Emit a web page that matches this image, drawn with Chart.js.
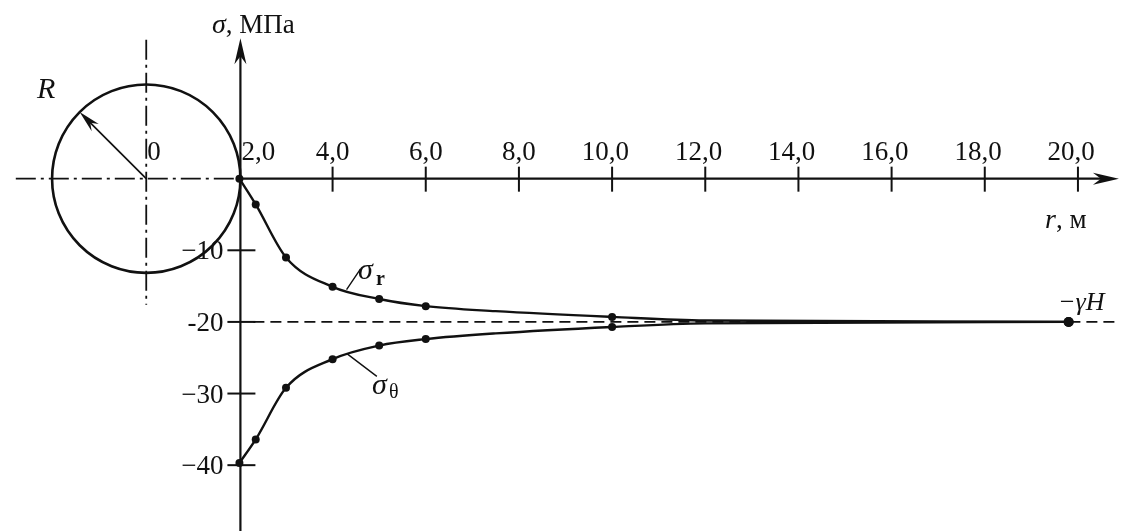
<!DOCTYPE html>
<html>
<head>
<meta charset="utf-8">
<script src="https://cdn.jsdelivr.net/npm/chart.js@4"></script>
<style>
  body { margin: 0; background: #fff; }
  #wrap { width: 1133px; height: 531px; position: relative; }
</style>
</head>
<body>
<div id="wrap"><canvas id="chart"></canvas></div>
<script>
// r, м
const rPoints    = [2.0, 2.35, 3.0, 4.0, 5.0, 6.0, 7.5, 10.0, 12.0, 19.8];
const sigmaR     = [0, -3.6, -11.0, -15.1, -16.8, -17.8, -18.5, -19.3, -19.8, -20.0];
const sigmaTheta = [-39.7, -36.4, -29.2, -25.2, -23.3, -22.4, -21.6, -20.7, -20.2, -20.0];
const marked     = [1, 1, 1, 1, 1, 1, 0, 1, 0, 1];

const gammaH = 20;       // -γH level, МПа
const holeRadius = 2;    // R, м

const xTickValues = [4, 6, 8, 10, 12, 14, 16, 18, 20];
const xTickLabels = ['4,0', '6,0', '8,0', '10,0', '12,0', '14,0', '16,0', '18,0', '20,0'];
const yTickValues = [-10, -20, -30, -40];
const yTickLabels = ['\u221210', '-20', '\u221230', '\u221240'];

const ink = '#111';
const serif = "'Liberation Serif', 'DejaVu Serif', serif";

function radii(big) {
    return marked.map((m, i) => i === marked.length - 1 ? big : (m ? 4 : 0));
}

// стрелка на конце оси
function arrowHead(ctx, tx, ty, dir) {
    ctx.save();
    ctx.translate(tx, ty);
    ctx.rotate(dir);
    ctx.beginPath();
    ctx.moveTo(0, 0);
    ctx.lineTo(-26, -6);
    ctx.lineTo(-18, 0);
    ctx.lineTo(-26, 6);
    ctx.closePath();
    ctx.fill();
    ctx.restore();
}

const decorPlugin = {
    id: 'decor',
    beforeDraw(chart) {
        const ctx = chart.ctx;
        ctx.save();
        ctx.fillStyle = '#fff';
        ctx.fillRect(0, 0, chart.width, chart.height);
        ctx.restore();
    },
    beforeDatasetsDraw(chart) {
        const { ctx, scales: { x, y } } = chart;
        const cx = x.getPixelForValue(0);
        const cy = y.getPixelForValue(0);
        const axisX = x.getPixelForValue(holeRadius) + 1;
        const rad = axisX - cx;

        ctx.save();
        ctx.strokeStyle = ink;
        ctx.fillStyle = ink;

        // осевые штрихпунктирные линии
        ctx.lineWidth = 1.8;
        ctx.setLineDash([20, 5, 3, 5]);
        ctx.beginPath();
        ctx.moveTo(x.getPixelForValue(-2.8), cy);
        ctx.lineTo(axisX, cy);
        ctx.moveTo(cx, y.getPixelForValue(19.4));
        ctx.lineTo(cx, y.getPixelForValue(-17.6));
        ctx.stroke();
        ctx.setLineDash([]);

        // контур выработки
        ctx.lineWidth = 2.6;
        ctx.beginPath();
        ctx.arc(cx, cy, rad, 0, Math.PI * 2);
        ctx.stroke();

        // радиус R
        const ang = -Math.PI * 3 / 4;
        const ex = cx + rad * Math.cos(ang), ey = cy + rad * Math.sin(ang);
        ctx.lineWidth = 1.7;
        ctx.beginPath();
        ctx.moveTo(cx, cy);
        ctx.lineTo(ex + 8, ey + 8);
        ctx.stroke();
        ctx.save();
        ctx.translate(ex, ey);
        ctx.rotate(ang + Math.PI);
        ctx.beginPath();
        ctx.moveTo(0, 0);
        ctx.lineTo(22, -5);
        ctx.lineTo(15, 0);
        ctx.lineTo(22, 5);
        ctx.closePath();
        ctx.fill();
        ctx.restore();

        // ось r
        ctx.lineWidth = 2.4;
        const xEnd = x.getPixelForValue(20.88);
        ctx.beginPath();
        ctx.moveTo(axisX, cy);
        ctx.lineTo(xEnd - 10, cy);
        ctx.stroke();
        arrowHead(ctx, xEnd, cy, 0);
        ctx.lineWidth = 2;
        xTickValues.forEach(v => {
            const px = x.getPixelForValue(v);
            ctx.beginPath();
            ctx.moveTo(px, cy - 12);
            ctx.lineTo(px, cy + 13);
            ctx.stroke();
        });

        // ось σ
        ctx.lineWidth = 2.2;
        const yTop = y.getPixelForValue(19.6);
        ctx.beginPath();
        ctx.moveTo(axisX, chart.height);
        ctx.lineTo(axisX, yTop + 10);
        ctx.stroke();
        arrowHead(ctx, axisX, yTop, -Math.PI / 2);
        ctx.lineWidth = 2;
        yTickValues.forEach(v => {
            const py = y.getPixelForValue(v);
            ctx.beginPath();
            ctx.moveTo(axisX - 13, py);
            ctx.lineTo(axisX + 15, py);
            ctx.stroke();
        });

        // уровень -γH
        ctx.lineWidth = 1.8;
        ctx.setLineDash([11, 6]);
        ctx.beginPath();
        ctx.moveTo(x.getPixelForValue(2.3), y.getPixelForValue(-gammaH));
        ctx.lineTo(x.getPixelForValue(20.85), y.getPixelForValue(-gammaH));
        ctx.stroke();
        ctx.restore();
    },
    afterDraw(chart) {
        const { ctx, scales: { x, y } } = chart;
        const cx = x.getPixelForValue(0);
        const cy = y.getPixelForValue(0);
        const axisX = x.getPixelForValue(holeRadius) + 1;

        ctx.save();
        ctx.fillStyle = ink;
        ctx.strokeStyle = ink;
        ctx.textBaseline = 'alphabetic';

        // подписи оси r
        ctx.font = '27px ' + serif;
        ctx.textAlign = 'left';
        xTickValues.forEach((v, i) => {
            const lbl = xTickLabels[i];
            const head = lbl.split(',')[0];
            const w = ctx.measureText(head).width + ctx.measureText(',').width / 2;
            ctx.fillText(lbl, x.getPixelForValue(v) - w, cy - 19);
        });
        ctx.fillText('2,0', axisX + 1, cy - 19);
        ctx.fillText('0', cx + 1, cy - 19);

        // подписи оси σ
        ctx.textAlign = 'right';
        yTickValues.forEach((v, i) => {
            ctx.fillText(yTickLabels[i], axisX - 17, y.getPixelForValue(v) + 9);
        });

        // заголовки осей
        ctx.textAlign = 'left';
        ctx.font = 'italic 28px ' + serif;
        ctx.fillText('\u03c3', 212, 33);
        let w = ctx.measureText('\u03c3').width;
        ctx.font = '27px ' + serif;
        ctx.fillText(', \u041c\u041f\u0430', 212 + w, 33);

        ctx.font = 'italic 28px ' + serif;
        ctx.fillText('r', 1045, 228);
        w = ctx.measureText('r').width;
        ctx.font = '27px ' + serif;
        ctx.fillText(', \u043c', 1045 + w, 228);

        ctx.font = 'italic 30px ' + serif;
        ctx.fillText('R', 37, 98);

        ctx.font = 'italic 26px ' + serif;
        ctx.fillText('\u2212\u03b3H', 1058, 310);

        // выноски σr, σθ
        ctx.lineWidth = 1.4;
        ctx.beginPath();
        ctx.moveTo(x.getPixelForValue(4.3), y.getPixelForValue(-15.5));
        ctx.lineTo(x.getPixelForValue(4.6), y.getPixelForValue(-12.6));
        ctx.moveTo(x.getPixelForValue(4.3), y.getPixelForValue(-24.4));
        ctx.lineTo(x.getPixelForValue(4.95), y.getPixelForValue(-27.6));
        ctx.stroke();

        ctx.font = 'italic 30px ' + serif;
        ctx.fillText('\u03c3', 358, 279);
        ctx.fillText('\u03c3', 372, 394);
        ctx.font = 'bold 20px ' + serif;
        ctx.fillText('r', 376, 285);
        ctx.font = '20px ' + serif;
        ctx.fillText('\u03b8', 389, 398);
        ctx.restore();
    }
};

const points = vals => rPoints.map((r, i) => ({ x: r, y: vals[i] }));

new Chart(document.getElementById('chart'), {
    type: 'line',
    data: {
        datasets: [
            {
                label: '\u03c3r',
                data: points(sigmaR),
                borderColor: ink,
                backgroundColor: ink,
                borderWidth: 2.4,
                pointRadius: radii(5),
                pointBorderWidth: 0,
                cubicInterpolationMode: 'monotone'
            },
            {
                label: '\u03c3\u03b8',
                data: points(sigmaTheta),
                borderColor: ink,
                backgroundColor: ink,
                borderWidth: 2.4,
                pointRadius: radii(5),
                pointBorderWidth: 0,
                cubicInterpolationMode: 'monotone'
            }
        ]
    },
    options: {
        responsive: true,
        maintainAspectRatio: false,
        animation: false,
        layout: { padding: 0 },
        plugins: { legend: { display: false }, tooltip: { enabled: false } },
        scales: {
            x: { type: 'linear', display: false, min: -142.5 / 47, max: (1133 - 142.5) / 47 },
            y: { type: 'linear', display: false, min: -(531 - 177) / 7.3, max: 177 / 7.3 }
        }
    },
    plugins: [decorPlugin]
});
</script>
</body>
</html>
